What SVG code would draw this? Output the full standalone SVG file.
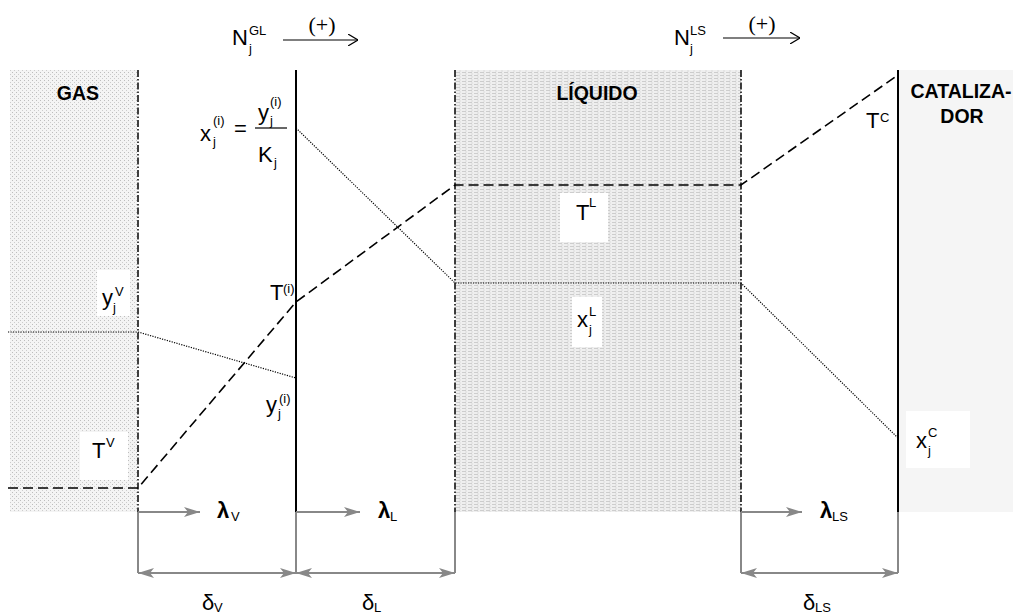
<svg xmlns="http://www.w3.org/2000/svg" width="1013" height="614" viewBox="0 0 1013 614">
<defs>
<pattern id="gasPat" width="4" height="4" patternUnits="userSpaceOnUse">
<rect width="4" height="4" fill="#f4f4f4"/>
<rect x="0" y="0" width="1" height="1" fill="#bdbdbd"/>
<rect x="2" y="2" width="1" height="1" fill="#cccccc"/>
</pattern>
<pattern id="liqPat" width="6" height="3" patternUnits="userSpaceOnUse">
<rect width="6" height="3" fill="#efefef"/>
<rect x="0" y="0" width="4" height="1" fill="#cdcdcd"/>
<rect x="3" y="1.5" width="2" height="1" fill="#dcdcdc"/>
</pattern>
<marker id="gArrow" viewBox="0 0 16 10" refX="16" refY="5" markerWidth="16" markerHeight="10" markerUnits="userSpaceOnUse" orient="auto-start-reverse">
<path d="M0,0 L16,5 L0,10 L4,5 Z" fill="#888"/>
</marker>
<marker id="kArrow" viewBox="0 0 10 12" refX="10" refY="6" markerWidth="10" markerHeight="12" markerUnits="userSpaceOnUse" orient="auto">
<path d="M0,0 L10,6 L0,12" fill="none" stroke="#000" stroke-width="1.2"/>
</marker>
</defs>
<style>
.t{font-family:"Liberation Sans",Arial,sans-serif;font-size:22px;fill:#000}
.sup{font-family:"Liberation Sans",Arial,sans-serif;font-size:13px;fill:#000}
.b{font-family:"Liberation Sans",Arial,sans-serif;font-size:19.5px;font-weight:bold;fill:#000}
.p{font-family:"Liberation Serif","Times New Roman",serif;font-size:22px;fill:#000}
.dv{stroke:#000;stroke-width:1.5;stroke-dasharray:7 2 1.5 2;fill:none}
.sol{stroke:#000;stroke-width:2;fill:none}
.tl{stroke:#000;stroke-width:1.6;stroke-dasharray:10 5;fill:none}
.cl{stroke:#000;stroke-width:1.2;stroke-dasharray:1.2 1.3;fill:none}
.g{stroke:#888;stroke-width:2;fill:none}
.wb{fill:#fff}
</style>

<g id="gas-region">
<rect x="10" y="70" width="127" height="442" fill="url(#gasPat)"/>
<text class="b" x="78" y="100" text-anchor="middle">GAS</text>
</g>
<g id="liquid-region">
<rect x="455" y="70" width="286" height="442" fill="url(#liqPat)"/>
<text class="b" x="597" y="100" text-anchor="middle">LÍQUIDO</text>
</g>
<g id="catalyst-region">
<rect x="899" y="70" width="114" height="442" fill="#f5f5f5"/>
<text class="b" x="961" y="98" text-anchor="middle">CATALIZA-</text>
<text class="b" x="962" y="123" text-anchor="middle">DOR</text>
</g>

<g id="boundaries">
<line class="dv" x1="138" y1="70" x2="138" y2="512"/>
<line class="sol" x1="296" y1="70" x2="296" y2="512"/>
<line class="dv" x1="455" y1="70" x2="455" y2="512"/>
<line class="dv" x1="741" y1="70" x2="741" y2="512"/>
<line class="sol" x1="898" y1="70" x2="898" y2="512" stroke-width="2.5"/>
</g>

<g id="connectors">
<polyline class="tl" points="8,488 138,488 296,302 455,185 741,185 898,75"/>
<polyline class="cl" points="8,332 138,332 296,378"/>
<polyline class="cl" points="296,128 455,283 741,283 898,438"/>
<line x1="283" y1="40" x2="358" y2="40" stroke="#000" stroke-width="1.2" marker-end="url(#kArrow)"/>
<line x1="723" y1="38" x2="800" y2="38" stroke="#000" stroke-width="1.2" marker-end="url(#kArrow)"/>
<g id="dims">
<line class="g" x1="138" y1="512" x2="138" y2="573"/>
<line class="g" x1="296" y1="512" x2="296" y2="573"/>
<line class="g" x1="455" y1="512" x2="455" y2="573"/>
<line class="g" x1="741" y1="512" x2="741" y2="573"/>
<line class="g" x1="898" y1="512" x2="898" y2="573"/>
<line class="g" x1="138" y1="512" x2="200" y2="512" marker-end="url(#gArrow)"/>
<line class="g" x1="296" y1="512" x2="360" y2="512" marker-end="url(#gArrow)"/>
<line class="g" x1="741" y1="512" x2="802" y2="512" marker-end="url(#gArrow)"/>
<line class="g" x1="138" y1="573" x2="296" y2="573" marker-start="url(#gArrow)" marker-end="url(#gArrow)"/>
<line class="g" x1="296" y1="573" x2="455" y2="573" marker-start="url(#gArrow)" marker-end="url(#gArrow)"/>
<line class="g" x1="741" y1="573" x2="898" y2="573" marker-start="url(#gArrow)" marker-end="url(#gArrow)"/>
</g>
</g>

<g id="flux-GL">
<text class="t" x="232" y="45">N</text>
<text class="sup" x="249" y="35">GL</text>
<text class="sup" x="249" y="53">j</text>
<text class="p" x="322" y="32" text-anchor="middle">(+)</text>
</g>
<g id="flux-LS">
<text class="t" x="674" y="45">N</text>
<text class="sup" x="690" y="35">LS</text>
<text class="sup" x="690" y="53">j</text>
<text class="p" x="762" y="31" text-anchor="middle">(+)</text>
</g>

<g id="label-equilibrium">
<text class="t" x="200" y="141">x</text>
<text class="sup" x="213" y="125" font-size="11">(i)</text>
<text class="sup" x="213" y="146">j</text>
<text class="t" x="234" y="136">=</text>
<text class="t" x="258" y="120">y</text>
<text class="sup" x="270" y="106" font-size="11">(i)</text>
<text class="sup" x="270" y="125">j</text>
<line x1="255" y1="128" x2="287" y2="128" stroke="#000" stroke-width="1.2"/>
<text class="t" x="258" y="162">K</text>
<text class="sup" x="274" y="167">j</text>
</g>

<g id="label-yV">
<rect class="wb" x="97" y="270" width="33" height="46"/>
<text class="t" x="102" y="305">y</text>
<text class="sup" x="115" y="296">V</text>
<text class="sup" x="113" y="312">j</text>
</g>
<g id="label-TV">
<rect class="wb" x="80" y="432" width="48" height="48"/>
<text class="t" x="92" y="458">T</text>
<text class="sup" x="106" y="447">V</text>
</g>
<g id="label-Ti">
<text class="t" x="270" y="300">T</text>
<text class="sup" x="283" y="293" font-size="11">(i)</text>
</g>
<g id="label-yi">
<text class="t" x="266" y="412">y</text>
<text class="sup" x="279" y="403" font-size="11">(i)</text>
<text class="sup" x="278" y="418">j</text>
</g>
<g id="label-TL">
<rect class="wb" x="560" y="193" width="48" height="49"/>
<text class="t" x="576" y="220">T</text>
<text class="sup" x="589" y="207">L</text>
</g>
<g id="label-xL">
<rect class="wb" x="572" y="297" width="30" height="50"/>
<text class="t" x="577" y="327">x</text>
<text class="sup" x="589" y="316">L</text>
<text class="sup" x="589" y="334">j</text>
</g>
<g id="label-TC">
<text class="t" x="866" y="128">T</text>
<text class="sup" x="880" y="122">C</text>
</g>
<g id="label-xC">
<rect class="wb" x="906" y="411" width="64" height="57"/>
<text class="t" x="916" y="448">x</text>
<text class="sup" x="928" y="437">C</text>
<text class="sup" x="928" y="455">j</text>
</g>

<g id="label-lambdas">
<text class="t" x="217" y="518" font-weight="bold">λ</text>
<text class="sup" x="231" y="521">V</text>
<text class="t" x="378" y="518" font-weight="bold">λ</text>
<text class="sup" x="390" y="521">L</text>
<text class="t" x="820" y="518" font-weight="bold">λ</text>
<text class="sup" x="832" y="521">LS</text>
</g>
<g id="label-deltas">
<text class="t" x="202" y="610">δ</text>
<text class="sup" x="214" y="612" font-size="14">V</text>
<text class="t" x="362" y="610">δ</text>
<text class="sup" x="374" y="612" font-size="14">L</text>
<text class="t" x="803" y="610">δ</text>
<text class="sup" x="815" y="612" font-size="14">LS</text>
</g>
</svg>
